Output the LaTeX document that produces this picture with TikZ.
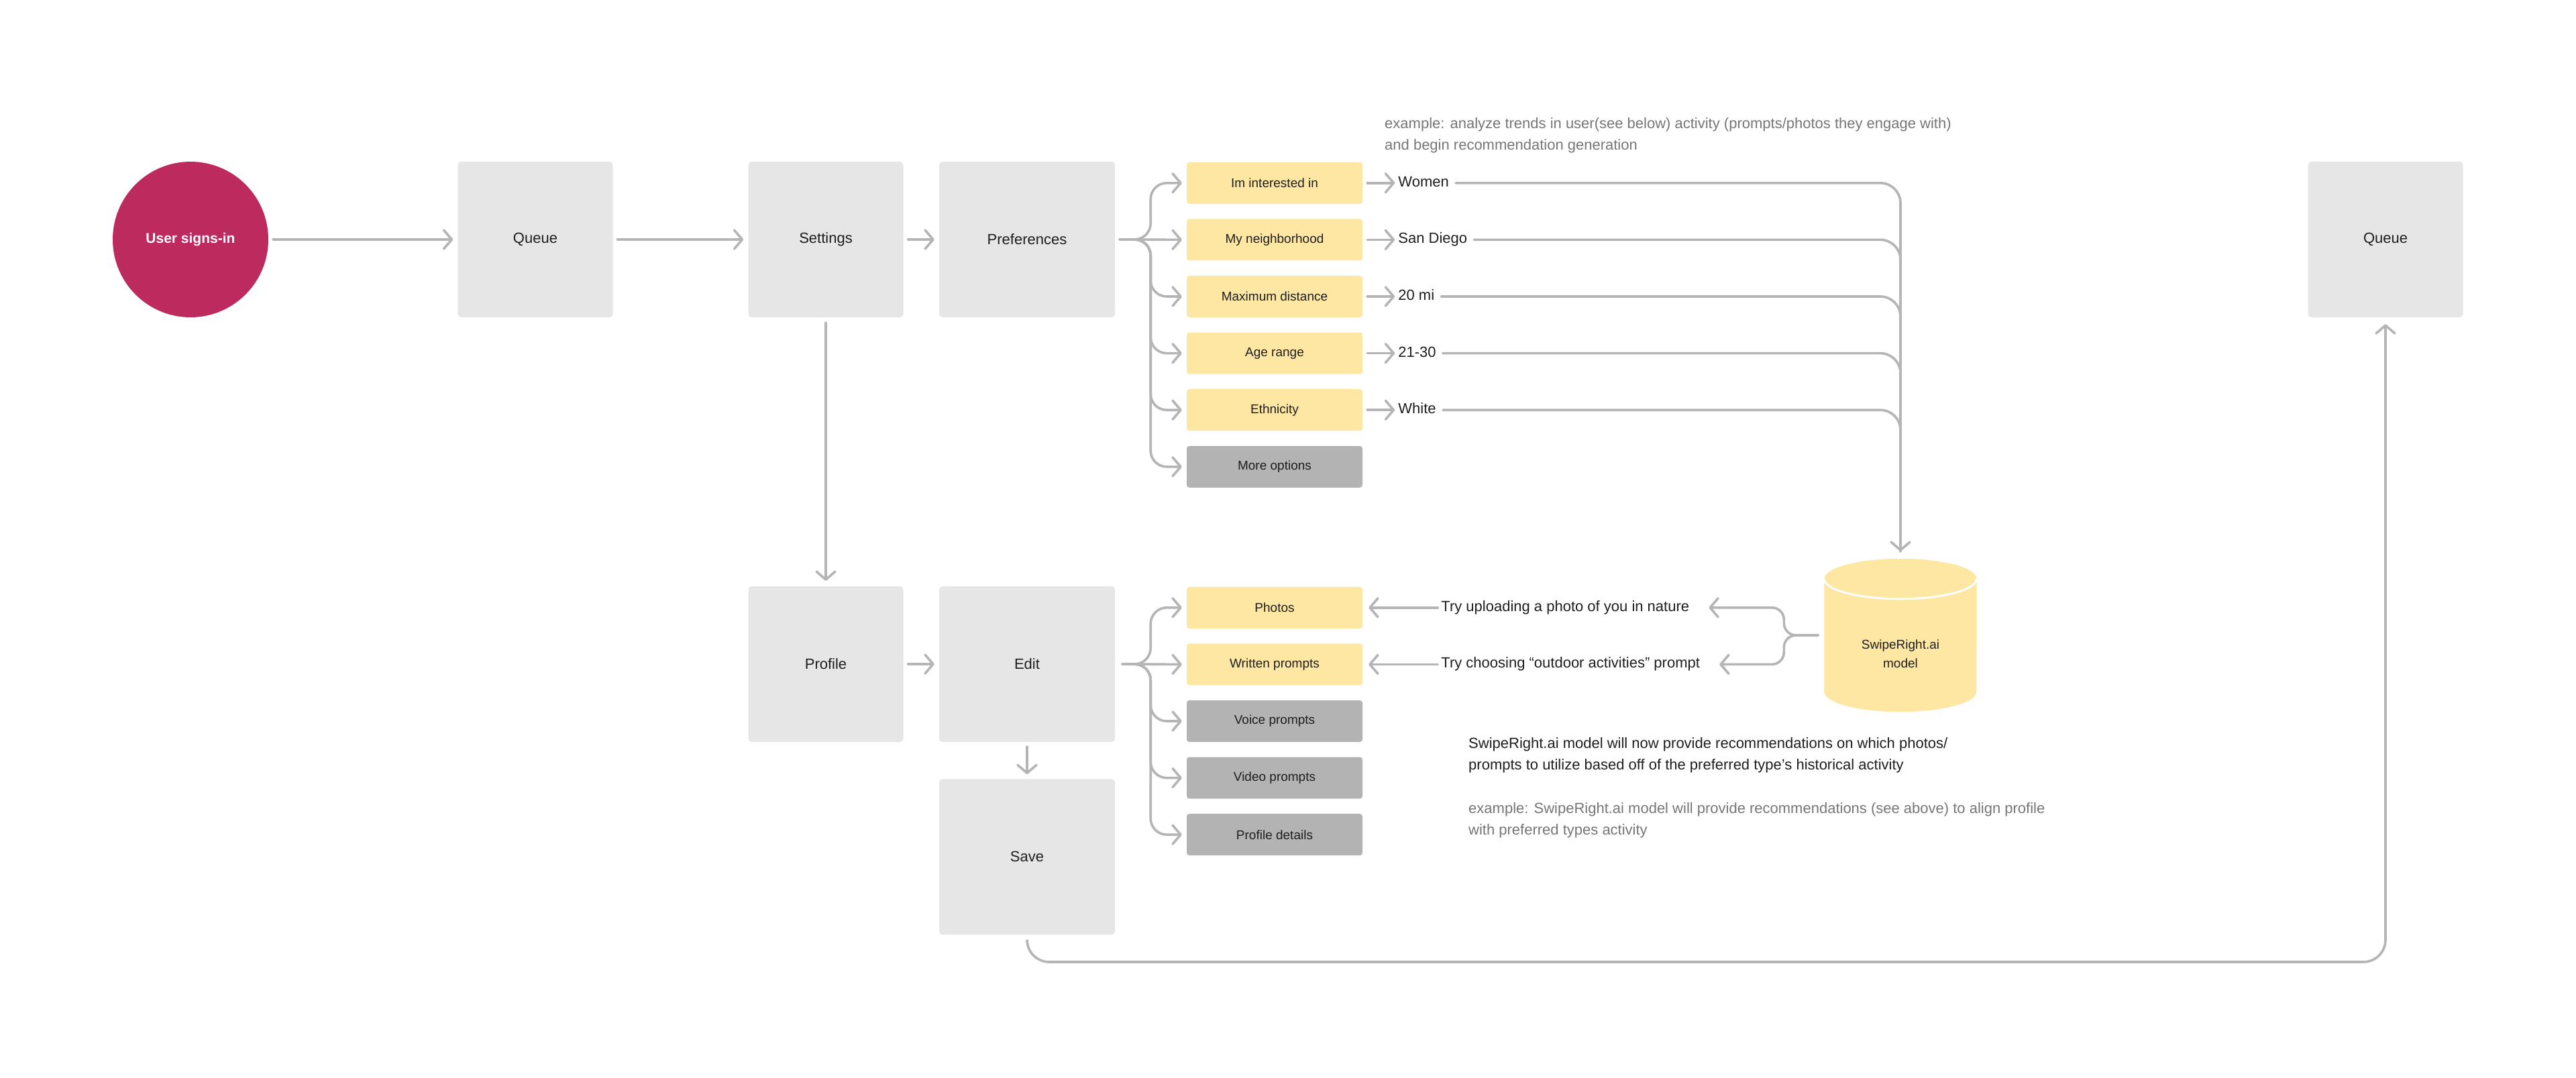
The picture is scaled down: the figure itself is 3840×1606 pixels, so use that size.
\documentclass[tikz,border=0pt]{standalone}
\usepackage{fontspec}
\setmainfont{Liberation Sans}
\usepackage{tikz}
\usetikzlibrary{arrows.meta,positioning}
\definecolor{boxgray}{HTML}{E6E6E6}
\definecolor{optyellow}{HTML}{FEE7A3}
\definecolor{optgray}{HTML}{B3B3B3}
\definecolor{linegray}{HTML}{B5B5B5}
\definecolor{signin}{HTML}{BD2B5E}
\definecolor{inktext}{HTML}{1E1E1E}
\definecolor{notegray}{HTML}{767676}
\tikzset{
  stepbox/.style={fill=boxgray,rounded corners=5pt,align=center,minimum width=231pt,minimum height=232pt,text=inktext},
  widebox/.style={stepbox,minimum width=262pt},
  optbox/.style={fill=optyellow,rounded corners=4pt,minimum width=262pt,minimum height=62pt,text=inktext,font=\fontsize{19}{22}\selectfont},
  optmore/.style={optbox,fill=optgray},
  startnode/.style={circle,fill=signin,minimum size=232pt,text=white,font=\bfseries\fontsize{21}{25}\selectfont},
  modelbox/.style={minimum width=227pt,minimum height=228pt,inner sep=0pt},
  valtext/.style={anchor=west,inner sep=0pt,text height=16pt,text depth=5pt,text=inktext,font=\fontsize{22}{26}\selectfont},
  notetext/.style={anchor=west,inner sep=0pt,align=left,text=notegray,font=\fontsize{22}{32}\selectfont},
  flowline/.style={draw=linegray,line width=3.6pt,line cap=round},
  flowarrow/.style={flowline,-{Straight Barb[length=12pt,width=28pt,line cap=round,line join=round]}}
}
\begin{document}
\begin{tikzpicture}[x=1pt, y=-1pt, node distance=22.2pt, every node/.style={font=\fontsize{22}{26}\selectfont}]
\path[use as bounding box, fill=white] (0,0) rectangle (3840,1606);
\node[startnode] (user) at (284,357) {User signs-in};
\node[stepbox] (queuea) at (798,357) {Queue};
\node[stepbox] (settings) at (1231,357) {Settings};
\node[widebox] (prefs) at (1531,357) {Preferences};
\node[stepbox] (profile) at (1231,990) {Profile};
\node[widebox] (edit) at (1531,990) {Edit};
\node[widebox, below=55pt of edit] (save) {Save};
\node[stepbox] (queueb) at (3556,357) {Queue};
\node[optbox] (interest) at (1900,272.8) {Im interested in};
\node[optbox, below=of interest] (hood) {My neighborhood};
\node[optbox, below=of hood] (distance) {Maximum distance};
\node[optbox, below=of distance] (agerange) {Age range};
\node[optbox, below=of agerange] (ethnic) {Ethnicity};
\node[optmore, below=of ethnic] (moreopts) {More options};
\node[optbox] (photos) at (1900,905.8) {Photos};
\node[optbox, below=of photos] (written) {Written prompts};
\node[optmore, below=of written] (voice) {Voice prompts};
\node[optmore, below=of voice] (video) {Video prompts};
\node[optmore, below=of video] (details) {Profile details};
\node[valtext, right=53pt of interest] (women) {Women};
\node[valtext, right=53pt of hood] (sandiego) {San Diego};
\node[valtext, right=53pt of distance] (miles) {20 mi};
\node[valtext, right=53pt of agerange] (ages) {21-30};
\node[valtext, right=53pt of ethnic] (white) {White};
\node[modelbox] (model) at (2833,947) {};
\fill[optyellow] ([yshift=-30pt]model.north west) -- ([yshift=30pt]model.south west) arc[start angle=180, end angle=360, x radius=113.5pt, y radius=30pt] -- ([yshift=-30pt]model.north east) arc[start angle=0, end angle=180, x radius=113.5pt, y radius=30pt] -- cycle;
\draw[white, line width=3pt] ([yshift=-30pt]model.north west) arc[start angle=180, end angle=360, x radius=113.5pt, y radius=30pt];
\node[align=center, text=inktext, font=\fontsize{19}{28}\selectfont] (modelname) at ([yshift=-28pt]model.center) {SwipeRight.ai\\model};
\node[valtext, right=117pt of photos] (tryphoto) {Try uploading a photo of you in nature};
\node[valtext, right=117pt of written] (trywritten) {Try choosing “outdoor activities” prompt};
\node[notetext] (trendnote) at (2064,202) {example: analyze trends in user(see below) activity (prompts/photos they engage with)\\and begin recommendation generation};
\node[notetext, text=inktext] (recnote) at (2189,1126) {SwipeRight.ai model will now provide recommendations on which photos/\\prompts to utilize based off of the preferred type’s historical activity};
\node[notetext] (alignnote) at (2189,1223) {example: SwipeRight.ai model will provide recommendations (see above) to align profile\\with preferred types activity};
\coordinate (loopturn) at (2500,1434);
\draw[flowarrow] ([xshift=7pt]user.east) -- ([xshift=-7pt]queuea.west);
\draw[flowarrow] ([xshift=7pt]queuea.east) -- ([xshift=-7pt]settings.west);
\draw[flowarrow] ([xshift=7pt]settings.east) -- ([xshift=-7pt]prefs.west);
\draw[flowarrow] ([yshift=-8pt]settings.south) -- ([yshift=8pt]profile.north);
\draw[flowarrow] ([xshift=7pt]profile.east) -- ([xshift=-7pt]edit.west);
\draw[flowarrow] ([yshift=-7pt]edit.south) -- ([yshift=7pt]save.north);
\draw[flowarrow, rounded corners=24pt] ([xshift=7pt]prefs.east) -- ([xshift=53pt]prefs.east) |- ([xshift=-7pt]interest.west);
\draw[flowarrow] ([xshift=7pt]prefs.east) -- ([xshift=-7pt]hood.west);
\draw[flowarrow, rounded corners=24pt] ([xshift=7pt]prefs.east) -- ([xshift=53pt]prefs.east) |- ([xshift=-7pt]distance.west);
\draw[flowarrow, rounded corners=24pt] ([xshift=7pt]prefs.east) -- ([xshift=53pt]prefs.east) |- ([xshift=-7pt]agerange.west);
\draw[flowarrow, rounded corners=24pt] ([xshift=7pt]prefs.east) -- ([xshift=53pt]prefs.east) |- ([xshift=-7pt]ethnic.west);
\draw[flowarrow, rounded corners=24pt] ([xshift=7pt]prefs.east) -- ([xshift=53pt]prefs.east) |- ([xshift=-7pt]moreopts.west);
\draw[flowarrow] ([xshift=7pt]interest.east) -- ([xshift=-5pt]women.west);
\draw[flowarrow] ([xshift=7pt]hood.east) -- ([xshift=-5pt]sandiego.west);
\draw[flowarrow] ([xshift=7pt]distance.east) -- ([xshift=-5pt]miles.west);
\draw[flowarrow] ([xshift=7pt]agerange.east) -- ([xshift=-5pt]ages.west);
\draw[flowarrow] ([xshift=7pt]ethnic.east) -- ([xshift=-5pt]white.west);
\draw[flowarrow, rounded corners=30pt] ([xshift=10pt]women.east) -| ([yshift=11pt]model.north);
\draw[flowline, rounded corners=30pt] ([xshift=10pt]sandiego.east) -| ([yshift=11pt]model.north);
\draw[flowline, rounded corners=30pt] ([xshift=10pt]miles.east) -| ([yshift=11pt]model.north);
\draw[flowline, rounded corners=30pt] ([xshift=10pt]ages.east) -| ([yshift=11pt]model.north);
\draw[flowline, rounded corners=30pt] ([xshift=10pt]white.east) -| ([yshift=11pt]model.north);
\draw[flowarrow, rounded corners=24pt] ([xshift=11pt]edit.east) -- ([xshift=53pt]edit.east) |- ([xshift=-7pt]photos.west);
\draw[flowarrow] ([xshift=11pt]edit.east) -- ([xshift=-7pt]written.west);
\draw[flowarrow, rounded corners=24pt] ([xshift=11pt]edit.east) -- ([xshift=53pt]edit.east) |- ([xshift=-7pt]voice.west);
\draw[flowarrow, rounded corners=24pt] ([xshift=11pt]edit.east) -- ([xshift=53pt]edit.east) |- ([xshift=-7pt]video.west);
\draw[flowarrow, rounded corners=24pt] ([xshift=11pt]edit.east) -- ([xshift=53pt]edit.east) |- ([xshift=-7pt]details.west);
\draw[flowarrow, rounded corners=18pt] ([xshift=-9pt]model.west) -- ([xshift=-60pt]model.west) |- ([xshift=29pt]tryphoto.east);
\draw[flowarrow, rounded corners=18pt] ([xshift=-9pt]model.west) -- ([xshift=-60pt]model.west) |- ([xshift=29pt]trywritten.east);
\draw[flowarrow] ([xshift=-5pt]tryphoto.west) -- ([xshift=9pt]photos.east);
\draw[flowarrow] ([xshift=-5pt]trywritten.west) -- ([xshift=9pt]written.east);
\draw[flowarrow, rounded corners=33pt] ([yshift=-8pt]save.south) |- (loopturn) -| ([yshift=-10pt]queueb.south);
\end{tikzpicture}
\end{document}
